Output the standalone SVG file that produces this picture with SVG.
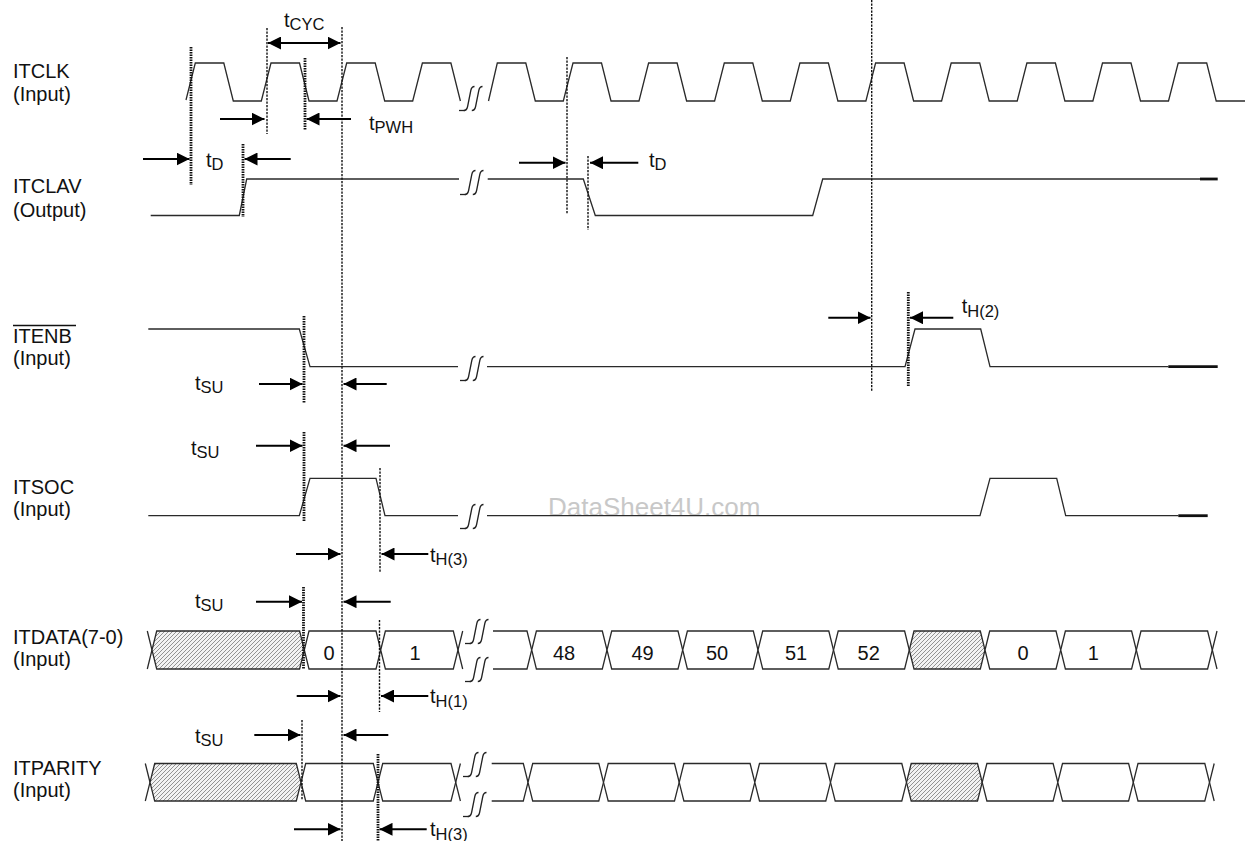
<svg xmlns="http://www.w3.org/2000/svg" width="1246" height="841" viewBox="0 0 1246 841">
<defs>
<style>
.sig{fill:none;stroke:#2a2a2a;stroke-width:1.3;stroke-linejoin:miter}
.thk{fill:none;stroke:#111;stroke-width:2.8}
.dl{fill:none;stroke:#111;stroke-width:1.4;stroke-dasharray:2.2 1.3}
.dlt{fill:none;stroke:#111;stroke-width:2.8;stroke-dasharray:1.4 1.1}
.arr{fill:none;stroke:#000;stroke-width:2;marker-end:url(#ah)}
.dbl{marker-start:url(#ah)}
.lbl{font-family:"Liberation Sans",Arial,sans-serif;font-size:20px;fill:#111}
.sub{font-size:16.5px}
.name{font-family:"Liberation Sans",Arial,sans-serif;font-size:20px;fill:#111}
.dig{font-family:"Liberation Sans",Arial,sans-serif;font-size:20px;fill:#111;text-anchor:middle}
.box{fill:#fff;stroke:#2a2a2a;stroke-width:1.3}
.hat{fill:url(#hatch);stroke:#2a2a2a;stroke-width:1.3}
.wm{font-family:"Liberation Sans",Arial,sans-serif;font-size:26px;fill:#c8c8c8}
</style>
<marker id="ah" viewBox="0 0 13 13" refX="13" refY="6.5" markerWidth="13" markerHeight="13" markerUnits="userSpaceOnUse" orient="auto-start-reverse">
<path d="M0,0 L13,6.5 L0,13 z" fill="#000"/>
</marker>
<pattern id="hatch" patternUnits="userSpaceOnUse" width="4" height="4">
<rect width="4" height="4" fill="#f2f2f2"/>
<path d="M-1,1 L1,-1 M0,4 L4,0 M3,5 L5,3" stroke="#7a7a7a" stroke-width="0.8"/>
</pattern>
<g id="brk" fill="none" stroke="#222" stroke-width="1.3">
<path d="M15.5,0.5 C13,0.5 12.3,2 11.8,4.5 L8.6,20.5 C8,23.5 7,24.5 4.8,24.5"/>
<path d="M23.5,0.5 C21,0.5 20.3,2 19.8,4.5 L16.6,20.5 C16,23.5 15,24.5 12.8,24.5"/>
<path d="M0,24.5 H6"/>
</g>
</defs>
<rect width="1246" height="841" fill="#fff"/>

<text class="wm" x="548" y="516">DataSheet4U.com</text>

<g id="itclk">
<text class="name" x="13" y="78">ITCLK</text>
<text class="name" x="13" y="101">(Input)</text>
<path class="sig" d="M186,100 L195.3,63 H223.8 L233.3,101 H261.3 L271,63 H299.5 L309,101 H337 L346.7,63 H375.2 L384.7,101 H412.7 L422.4,63 H450.9 L460.4,101"/>
<use href="#brk" x="459" y="86"/>
<path class="sig" d="M488.5,101 L497.3,63 H525.8 L535.3,101 H563.3 L573,63 H601.5 L611,101 H639 L648.6,63 H677.1 L686.6,101 H714.6 L724.3,63 H752.8 L762.3,101 H790.3 L799.9,63 H828.4 L837.9,101 H865.9 L875.6,63 H904.1 L913.6,101 H941.6 L951.2,63 H979.7 L989.2,101 H1017.2 L1026.9,63 H1055.4 L1064.9,101 H1092.9 L1102.5,63 H1131 L1140.5,101 H1168.5 L1178.2,63 H1206.7 L1216.2,101 H1245"/>
</g>

<g id="itclav">
<text class="name" x="13" y="193">ITCLAV</text>
<text class="name" x="13" y="217">(Output)</text>
<path class="sig" d="M150.7,215.5 H239.3 L246.7,179 H459"/>
<use href="#brk" x="460" y="170"/>
<path class="sig" d="M487.7,179 H583.3 L595.3,215.5 H812.7 L822.7,179 H1200"/>
<path class="thk" d="M1200,179 H1217.7"/>
</g>

<g id="itenb">
<text class="name" x="13" y="343">ITENB</text>
<path d="M13,325.5 H76" stroke="#111" stroke-width="1.3"/>
<text class="name" x="13" y="365">(Input)</text>
<path class="sig" d="M148.3,329 H299.3 L310,366.7 H458"/>
<use href="#brk" x="460" y="356"/>
<path class="sig" d="M487,366.7 H905 L915,329 H980.7 L990,366.7 H1168.3"/>
<path class="thk" d="M1168.3,366.7 H1217.7"/>
</g>

<g id="itsoc">
<text class="name" x="13" y="494">ITSOC</text>
<text class="name" x="13" y="516">(Input)</text>
<path class="sig" d="M148.3,515.7 H299.3 L310,478.3 H376 L385,515.7 H458"/>
<use href="#brk" x="460" y="504"/>
<path class="sig" d="M487,515.7 H980 L990,478.3 H1056.7 L1065.7,515.7 H1178.3"/>
<path class="thk" d="M1178.3,515.7 H1207.7"/>
</g>

<g id="itdata">
<text class="name" x="13" y="644">ITDATA(7-0)</text>
<text class="name" x="13" y="666">(Input)</text>
<path class="sig" d="M147.3,631 L152,650 L147.3,669"/>
<polygon class="hat" points="152,650 156.7,631 299.6,631 304.3,650 299.6,669 156.7,669"/>
<polygon class="box" points="304.3,650 309,631 376,631 380.7,650 376,669 309,669"/>
<polygon class="box" points="380.7,650 385.4,631 453.3,631 458,650 453.3,669 385.4,669"/>
<path class="sig" d="M458,650 L462.7,631 M458,650 L462.7,669"/>
<use href="#brk" x="465" y="619"/>
<use href="#brk" x="465" y="657"/>
<path class="sig" d="M493,631 H527 L531.7,650 L527,669 H493"/>
<polygon class="box" points="531.7,650 536.4,631 602.3,631 607,650 602.3,669 536.4,669"/>
<polygon class="box" points="607,650 611.7,631 678,631 682.7,650 678,669 611.7,669"/>
<polygon class="box" points="682.7,650 687.4,631 753.3,631 758,650 753.3,669 687.4,669"/>
<polygon class="box" points="758,650 762.7,631 828.8,631 833.5,650 828.8,669 762.7,669"/>
<polygon class="box" points="833.5,650 838.2,631 904.6,631 909.3,650 904.6,669 838.2,669"/>
<polygon class="hat" points="909.3,650 914,631 980.3,631 985,650 980.3,669 914,669"/>
<polygon class="box" points="985,650 989.7,631 1056,631 1060.7,650 1056,669 989.7,669"/>
<polygon class="box" points="1060.7,650 1065.4,631 1131.6,631 1136.3,650 1131.6,669 1065.4,669"/>
<polygon class="box" points="1136.3,650 1141,631 1207.6,631 1212.3,650 1207.6,669 1141,669"/>
<path class="sig" d="M1212.3,650 L1217,631 M1212.3,650 L1217,669"/>
<text class="dig" x="329" y="660">0</text>
<text class="dig" x="415" y="660">1</text>
<text class="dig" x="564" y="660">48</text>
<text class="dig" x="642.5" y="660">49</text>
<text class="dig" x="717" y="660">50</text>
<text class="dig" x="796" y="660">51</text>
<text class="dig" x="868.7" y="660">52</text>
<text class="dig" x="1023" y="660">0</text>
<text class="dig" x="1093.3" y="660">1</text>
</g>

<g id="itparity">
<text class="name" x="13" y="775">ITPARITY</text>
<text class="name" x="13" y="797">(Input)</text>
<path class="sig" d="M145.3,763.5 L150,782.3 L145.3,801"/>
<polygon class="hat" points="150,782.3 154.7,763.5 296.3,763.5 301,782.3 296.3,801 154.7,801"/>
<polygon class="box" points="301,782.3 305.7,763.5 373.3,763.5 378,782.3 373.3,801 305.7,801"/>
<polygon class="box" points="378,782.3 382.7,763.5 451,763.5 455.7,782.3 451,801 382.7,801"/>
<path class="sig" d="M455.7,782.3 L460.4,763.5 M455.7,782.3 L460.4,801"/>
<use href="#brk" x="463" y="752"/>
<use href="#brk" x="463" y="792"/>
<path class="sig" d="M491.7,763.5 H523.3 L528,782.3 L523.3,801 H491.7"/>
<polygon class="box" points="528,782.3 532.7,763.5 598.8,763.5 603.5,782.3 598.8,801 532.7,801"/>
<polygon class="box" points="603.5,782.3 608.2,763.5 674.5,763.5 679.2,782.3 674.5,801 608.2,801"/>
<polygon class="box" points="679.2,782.3 683.9,763.5 750.1,763.5 754.8,782.3 750.1,801 683.9,801"/>
<polygon class="box" points="754.8,782.3 759.5,763.5 825.8,763.5 830.5,782.3 825.8,801 759.5,801"/>
<polygon class="box" points="830.5,782.3 835.2,763.5 901.8,763.5 906.5,782.3 901.8,801 835.2,801"/>
<polygon class="hat" points="906.5,782.3 911.2,763.5 977.5,763.5 982.2,782.3 977.5,801 911.2,801"/>
<polygon class="box" points="982.2,782.3 986.9,763.5 1053.1,763.5 1057.8,782.3 1053.1,801 986.9,801"/>
<polygon class="box" points="1057.8,782.3 1062.5,763.5 1128.6,763.5 1133.3,782.3 1128.6,801 1062.5,801"/>
<polygon class="box" points="1133.3,782.3 1138,763.5 1204.8,763.5 1209.5,782.3 1204.8,801 1138,801"/>
<path class="sig" d="M1209.5,782.3 L1214.2,763.5 M1209.5,782.3 L1214.2,801"/>
</g>

<g id="connectors">
<path class="dlt" d="M191,47 V185"/>
<path class="dl" d="M267,28 V134"/>
<path class="dlt" d="M305,58 V130"/>
<path class="dl" d="M342,27 V841"/>
<path class="dlt" d="M243,144 V217"/>
<path class="dl" d="M567,57 V214"/>
<path class="dl" d="M588,156 V230"/>
<path class="dl" d="M871.7,0 V392"/>
<path class="dlt" d="M908.3,292 V387"/>
<path class="dlt" d="M304,316 V403"/>
<path class="dlt" d="M304,432 V521"/>
<path class="dl" d="M380,468 V572"/>
<path class="dlt" d="M303.5,587 V669"/>
<path class="dl" d="M379.5,620 V712"/>
<path class="dl" d="M302,720 V800"/>
<path class="dlt" d="M378,754 V841"/>

<path class="arr dbl" d="M268,43 H340.5"/>
<path class="arr" d="M220,119 H264.5"/>
<path class="arr" d="M351,119 H306.5"/>
<path class="arr" d="M143,159 H189.5"/>
<path class="arr" d="M290.7,159 H244.5"/>
<path class="arr" d="M519,162.7 H565.5"/>
<path class="arr" d="M638.3,162.7 H590"/>
<path class="arr" d="M828.3,317.7 H870.5"/>
<path class="arr" d="M953.3,317.7 H910"/>
<path class="arr" d="M259,384 H302.5"/>
<path class="arr" d="M386.7,384 H343.5"/>
<path class="arr" d="M256,445.7 H302.5"/>
<path class="arr" d="M390,445.7 H343.5"/>
<path class="arr" d="M296,554 H340.5"/>
<path class="arr" d="M428.3,554 H381.5"/>
<path class="arr" d="M256,601.7 H302"/>
<path class="arr" d="M390.7,601.7 H343.5"/>
<path class="arr" d="M296.7,696 H340.5"/>
<path class="arr" d="M428.3,696 H381"/>
<path class="arr" d="M254.3,735 H300.5"/>
<path class="arr" d="M388.3,735 H343.5"/>
<path class="arr" d="M294,829.3 H340.5"/>
<path class="arr" d="M426.7,829.3 H379.5"/>
</g>

<g id="labels">
<text class="lbl" x="284" y="27">t<tspan class="sub" dy="3">CYC</tspan></text>
<text class="lbl" x="369" y="130">t<tspan class="sub" dy="2.5">PWH</tspan></text>
<text class="lbl" x="206" y="166.5">t<tspan class="sub" dy="3.5">D</tspan></text>
<text class="lbl" x="649" y="166.5">t<tspan class="sub" dy="3.5">D</tspan></text>
<text class="lbl" x="961.7" y="313">t<tspan class="sub" dy="3.5">H(2)</tspan></text>
<text class="lbl" x="195" y="390">t<tspan class="sub" dy="3">SU</tspan></text>
<text class="lbl" x="191" y="455">t<tspan class="sub" dy="3">SU</tspan></text>
<text class="lbl" x="430" y="561.7">t<tspan class="sub" dy="3.5">H(3)</tspan></text>
<text class="lbl" x="195" y="608.3">t<tspan class="sub" dy="3">SU</tspan></text>
<text class="lbl" x="430" y="703.3">t<tspan class="sub" dy="3.5">H(1)</tspan></text>
<text class="lbl" x="195" y="743">t<tspan class="sub" dy="3">SU</tspan></text>
<text class="lbl" x="430" y="836">t<tspan class="sub" dy="3.5">H(3)</tspan></text>
</g>
</svg>
